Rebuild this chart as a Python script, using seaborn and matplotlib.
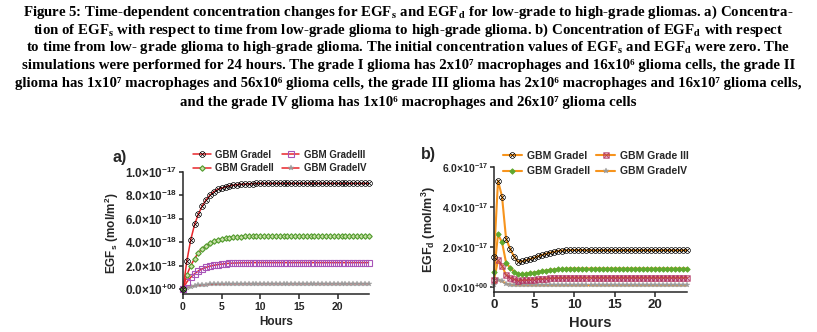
import numpy as np
import pandas as pd
import matplotlib
matplotlib.use("Agg")
import matplotlib.pyplot as plt
import seaborn as sns

# ---------------- data ----------------
hours = [0.0, 0.5, 1.0, 1.5, 2.0, 2.5, 3.0, 3.5, 4.0, 4.5, 5.0, 5.5, 6.0, 6.5,
         7.0, 7.5, 8.0, 8.5, 9.0, 9.5, 10.0, 10.5, 11.0, 11.5, 12.0, 12.5,
         13.0, 13.5, 14.0, 14.5, 15.0, 15.5, 16.0, 16.5, 17.0, 17.5, 18.0,
         18.5, 19.0, 19.5, 20.0, 20.5, 21.0, 21.5, 22.0, 22.5, 23.0, 23.5, 24.0]

# panel a: EGF_s, in units of 1e-18 mol/m^2
egfs_grade1 = [0.0, 2.4, 4.2, 5.5, 6.4, 7.1, 7.6, 8.0, 8.3, 8.5, 8.6, 8.7, 8.8,
               8.85, 8.9, 8.92, 8.95, 8.97, 8.98, 9.0, 9.0, 9.0, 9.0, 9.0, 9.0,
               9.0, 9.0, 9.0, 9.0, 9.0, 9.0, 9.0, 9.0, 9.0, 9.0, 9.0, 9.0, 9.0,
               9.0, 9.0, 9.0, 9.0, 9.0, 9.0, 9.0, 9.0, 9.0, 9.0, 9.0]
egfs_grade2 = [0.0, 1.2, 2.0, 2.6, 3.1, 3.45, 3.7, 3.9, 4.05, 4.15, 4.25, 4.32,
               4.38, 4.42, 4.45, 4.47, 4.48, 4.49, 4.49, 4.5, 4.5, 4.5, 4.5,
               4.5, 4.5, 4.5, 4.5, 4.5, 4.5, 4.5, 4.5, 4.5, 4.5, 4.5, 4.5, 4.5,
               4.5, 4.5, 4.5, 4.5, 4.5, 4.5, 4.5, 4.5, 4.5, 4.5, 4.5, 4.5, 4.5]
egfs_grade3 = [0.0, 0.6, 1.0, 1.3, 1.55, 1.72, 1.85, 1.95, 2.02, 2.08, 2.12,
               2.16, 2.19, 2.21, 2.22, 2.23, 2.24, 2.24, 2.25, 2.25, 2.25, 2.25,
               2.25, 2.25, 2.25, 2.25, 2.25, 2.25, 2.25, 2.25, 2.25, 2.25, 2.25,
               2.25, 2.25, 2.25, 2.25, 2.25, 2.25, 2.25, 2.25, 2.25, 2.25, 2.25,
               2.25, 2.25, 2.25, 2.25, 2.25]
egfs_grade4 = [0.0, 0.12, 0.2, 0.26, 0.31, 0.345, 0.37, 0.39, 0.405, 0.415,
               0.425, 0.43, 0.44, 0.44, 0.445, 0.445, 0.45, 0.45, 0.45, 0.45,
               0.45, 0.45, 0.45, 0.45, 0.45, 0.45, 0.45, 0.45, 0.45, 0.45, 0.45,
               0.45, 0.45, 0.45, 0.45, 0.45, 0.45, 0.45, 0.45, 0.45, 0.45, 0.45,
               0.45, 0.45, 0.45, 0.45, 0.45, 0.45, 0.45]

# panel b: EGF_d, in units of 1e-17 mol/m^3
egfd_grade1 = [1.5, 5.3, 4.5, 2.4, 1.9, 1.5, 1.25, 1.27, 1.32, 1.38, 1.45, 1.52,
               1.59, 1.65, 1.7, 1.75, 1.79, 1.81, 1.82, 1.83, 1.83, 1.83, 1.83,
               1.82, 1.82, 1.82, 1.82, 1.82, 1.82, 1.82, 1.82, 1.82, 1.82, 1.82,
               1.82, 1.82, 1.82, 1.82, 1.82, 1.82, 1.82, 1.82, 1.82, 1.82, 1.82,
               1.82, 1.82, 1.82, 1.82]
egfd_grade2 = [0.72, 2.62, 2.22, 1.2, 0.95, 0.76, 0.63, 0.63, 0.65, 0.68, 0.71,
               0.74, 0.78, 0.81, 0.84, 0.86, 0.88, 0.89, 0.9, 0.91, 0.91, 0.91,
               0.91, 0.91, 0.91, 0.91, 0.91, 0.91, 0.91, 0.91, 0.91, 0.91, 0.91,
               0.91, 0.91, 0.91, 0.91, 0.91, 0.91, 0.91, 0.91, 0.91, 0.91, 0.91,
               0.91, 0.91, 0.91, 0.91, 0.91]
egfd_grade3 = [0.35, 1.32, 1.05, 0.58, 0.45, 0.37, 0.31, 0.32, 0.33, 0.35, 0.36,
               0.38, 0.39, 0.41, 0.42, 0.43, 0.44, 0.44, 0.45, 0.45, 0.45, 0.45,
               0.45, 0.45, 0.45, 0.45, 0.45, 0.45, 0.45, 0.45, 0.45, 0.45, 0.45,
               0.45, 0.45, 0.45, 0.45, 0.45, 0.45, 0.45, 0.45, 0.45, 0.45, 0.45,
               0.45, 0.45, 0.45, 0.45, 0.45]
egfd_grade4 = [0.1, 0.35, 0.27, 0.15, 0.1, 0.08, 0.07, 0.07, 0.07, 0.07, 0.07,
               0.07, 0.07, 0.07, 0.07, 0.07, 0.07, 0.07, 0.07, 0.07, 0.07, 0.07,
               0.07, 0.07, 0.07, 0.07, 0.07, 0.07, 0.07, 0.07, 0.07, 0.07, 0.07,
               0.07, 0.07, 0.07, 0.07, 0.07, 0.07, 0.07, 0.07, 0.07, 0.07, 0.07,
               0.07, 0.07, 0.07, 0.07, 0.07]

labels_a = ["GBM GradeI", "GBM GradeII", "GBM GradeIII", "GBM GradeIV"]
labels_b = ["GBM GradeI", "GBM GradeII", "GBM Grade III", "GBM GradeIV"]

x_ticks = [0, 5, 10, 15, 20]
yticks_a = [0.0, 2e-18, 4e-18, 6e-18, 8e-18, 1e-17]
yticklabels_a = [r"0.0×10$^{+00}$", r"2.0×10$^{-18}$", r"4.0×10$^{-18}$",
                 r"6.0×10$^{-18}$", r"8.0×10$^{-18}$", r"1.0×10$^{-17}$"]
yticks_b = [0.0, 2e-17, 4e-17, 6e-17]
yticklabels_b = [r"0.0×10$^{+00}$", r"2.0×10$^{-17}$", r"4.0×10$^{-17}$",
                 r"6.0×10$^{-17}$"]

caption = [
    r"Figure 5: Time-dependent concentration changes for EGF$_{\mathbf{s}}$ and EGF$_{\mathbf{d}}$ for low-grade to high-grade gliomas. a) Concentra-",
    r"tion of EGF$_{\mathbf{s}}$ with respect to time from low-grade glioma to high-grade glioma. b) Concentration of EGF$_{\mathbf{d}}$ with respect",
    r"to time from low- grade glioma to high-grade glioma. The initial concentration values of EGF$_{\mathbf{s}}$ and EGF$_{\mathbf{d}}$ were zero. The",
    "simulations were performed for 24 hours. The grade I glioma has 2x10⁷ macrophages and 16x10⁶ glioma cells, the grade II",
    "glioma has 1x10⁷ macrophages and 56x10⁶ glioma cells, the grade III glioma has 2x10⁶ macrophages and 16x10⁷ glioma cells,",
    "and the grade IV glioma has 1x10⁶ macrophages and 26x10⁷ glioma cells",
]

# ---------------- style ----------------
sns.set_style("ticks")
plt.rcParams.update({
    "font.family": ["Liberation Sans", "DejaVu Sans"],
    "font.weight": "bold",
    "mathtext.fontset": "custom",
    "mathtext.rm": "Liberation Sans:bold",
    "mathtext.it": "Liberation Sans:bold",
    "mathtext.bf": "Liberation Sans:bold",
    "mathtext.sf": "Liberation Sans:bold",
    "axes.linewidth": 1.1,
    "xtick.major.width": 1.1,
    "ytick.major.width": 1.1,
    "xtick.major.size": 3.5,
    "ytick.major.size": 3.0,
    "xtick.major.pad": 2,
    "ytick.major.pad": 1,
})

W, H = 817, 332
fig = plt.figure(figsize=(W / 100, H / 100), dpi=100)

# caption
cap_y = [12, 30, 48, 66, 84, 102]
for line, yy in zip(caption, cap_y):
    fig.text(0.5, 1 - yy / H, line, ha="center", va="center",
             family=["Liberation Serif", "DejaVu Serif"], weight="bold",
             fontsize=10.7, math_fontfamily="stix", color="black")

def pax(x0, x1, ytop, ybot):
    return fig.add_axes([x0 / W, 1 - ybot / H, (x1 - x0) / W, (ybot - ytop) / H])

axA = pax(183, 368.6, 171.7, 294)
axB = pax(494, 687, 166.7, 291.7)

red = "#e8262b"
orange = "#f7941d"

styles_a = [
    dict(marker=r"$\otimes$", markersize=4.3, markerfacecolor="black", markeredgecolor="black", markeredgewidth=0.2),
    dict(marker="D", markersize=2.8, markerfacecolor="#c8e0a8", markeredgecolor="#4f9a2a", markeredgewidth=0.8),
    dict(marker="s", markersize=4.2, markerfacecolor="none", markeredgecolor="#a855b8", markeredgewidth=0.8),
    dict(marker="*", markersize=4.0, markerfacecolor="#9a9a9a", markeredgecolor="#9a9a9a", markeredgewidth=0.3),
]
styles_b = [
    dict(marker=r"$\otimes$", markersize=4.3, markerfacecolor="black", markeredgecolor="black", markeredgewidth=0.2),
    dict(marker="D", markersize=2.8, markerfacecolor="#5fa82e", markeredgecolor="#5fa82e", markeredgewidth=0.6),
    dict(marker=r"$\boxtimes$", markersize=4.3, markerfacecolor="#b0305e", markeredgecolor="#b0305e", markeredgewidth=0.2),
    dict(marker="*", markersize=4.0, markerfacecolor="#9a9a9a", markeredgecolor="#9a9a9a", markeredgewidth=0.3),
]

series_a = [np.array(s) * 1e-18 for s in (egfs_grade1, egfs_grade2, egfs_grade3, egfs_grade4)]
series_b = [np.array(s) * 1e-17 for s in (egfd_grade1, egfd_grade2, egfd_grade3, egfd_grade4)]

for vals, lab, st in reversed(list(zip(series_a, labels_a, styles_a))):
    sns.lineplot(x=hours, y=vals, ax=axA, color=red, lw=1.1, label=lab,
                 clip_on=False, **st)
for vals, lab, st in reversed(list(zip(series_b, labels_b, styles_b))):
    sns.lineplot(x=hours, y=vals, ax=axB, color=orange, lw=1.5, label=lab,
                 clip_on=False, **st)

def finish(ax, yticks, yticklabels, ylim, ylabel, xfs, yfs, hfs, lfs):
    ax.set_xlim(0, 24)
    ax.set_ylim(*ylim)
    ax.set_xticks(x_ticks)
    ax.set_xticklabels([str(v) for v in x_ticks], fontsize=xfs, fontweight="bold")
    ax.set_yticks(yticks)
    ax.set_yticklabels(yticklabels, fontsize=yfs, fontweight="bold")
    ax.set_xlabel("Hours", fontsize=hfs, fontweight="bold", labelpad=3)
    ax.set_ylabel(ylabel, fontsize=lfs, fontweight="bold", labelpad=3)
    sns.despine(ax=ax)
    ax.spines["left"].set_bounds(ylim[0], yticks[-1])

finish(axA, yticks_a, yticklabels_a, (-0.0426e-17, 1e-17),
       r"EGF$_{\mathrm{s}}$ (mol/m$^{2}$)", 7.5, 8.5, 8.5, 8.5)
finish(axB, yticks_b, yticklabels_b, (-0.25e-17, 6e-17),
       r"EGF$_{\mathrm{d}}$ (mol/m$^{3}$)", 9.5, 7.5, 10.5, 9)

def legend(ax, labels, x, ytop, fs, lsp, cs):
    h, l = ax.get_legend_handles_labels()
    order = [l.index(s) for s in labels]
    ax.legend([h[i] for i in order], [l[i] for i in order], ncol=2,
              loc="upper left", bbox_to_anchor=(x / W, 1 - ytop / H),
              bbox_transform=fig.transFigure, frameon=False,
              borderpad=0, borderaxespad=0, handlelength=1.8, handletextpad=0.5,
              labelspacing=lsp, columnspacing=cs, numpoints=1,
              prop={"weight": "bold", "size": fs})

legend(axA, labels_a, 193, 149.5, 7, 0.35, 0.8)
legend(axB, labels_b, 503, 151, 7.5, 0.5, 0.6)

fig.text(120 / W, 1 - 158 / H, "a)", fontsize=11.5, fontweight="bold", ha="center", va="center")
fig.text(428 / W, 1 - 155 / H, "b)", fontsize=11.5, fontweight="bold", ha="center", va="center")

fig.savefig("out.png", dpi=100)
